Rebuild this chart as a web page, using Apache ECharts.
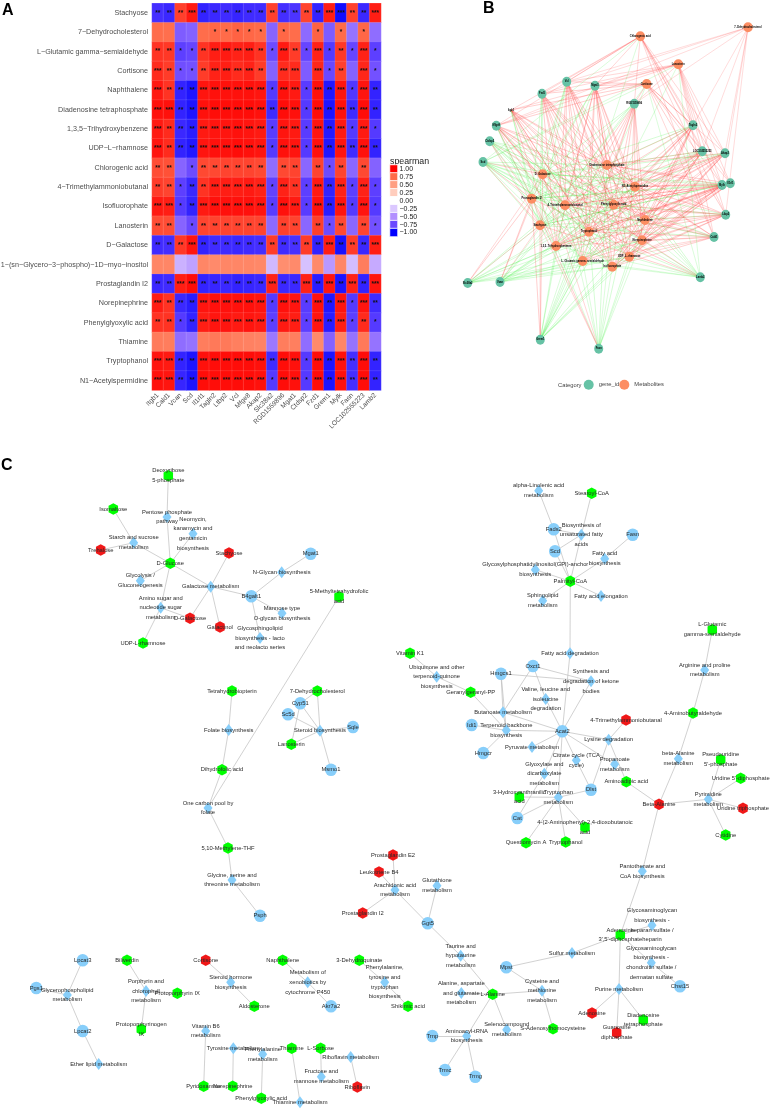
<!DOCTYPE html>
<html><head><meta charset="utf-8">
<style>html,body{margin:0;padding:0;background:#fff}#c{width:770px;height:1110px}</style>
<script src="https://cdn.jsdelivr.net/npm/echarts@6/dist/echarts.min.js"></script>
</head><body><div id="c"></div>
<script>
const genes=["Itgb1","Cald1","Vcan","Scd","Il1rl1","Tagln2","Ltbp2","Vcl","Mfge8","Akap2","Slc38a2","RGD1559896","Mgat1","Ctdsp2","Fzd1","Grem1","Mylk","Fasn","LOC102555223","Lamb2"];
const metabolites=["Stachyose","7−Dehydrocholesterol","L−Glutamic gamma−semialdehyde","Cortisone","Naphthalene","Diadenosine tetraphosphate","1,3,5−Trihydroxybenzene","UDP−L−rhamnose","Chlorogenic acid","4−Trimethylammoniobutanal","Isofluorophate","Lanosterin","D−Galactose","1−(sn−Glycero−3−phospho)−1D−myo−inositol","Prostaglandin I2","Norepinephrine","Phenylglyoxylic acid","Thiamine","Tryptophanol","N1−Acetylspermidine"];
const spearman=[
[-.84,-.86,.85,.94,-.88,-.86,-.85,-.87,-.85,-.85,.85,-.84,-.82,.84,-.88,.93,-.96,.85,-.86,.93],
[.74,.73,-.68,-.66,.74,.76,.75,.77,.76,.75,-.65,.76,.74,-.63,.77,-.68,.75,-.6,.76,-.62],
[.88,.87,-.78,-.76,.88,.93,.94,.92,.93,.88,-.74,.94,.86,-.76,.92,-.8,.87,-.76,.92,-.78],
[.9,.86,-.73,-.72,.86,.92,.93,.9,.92,.86,-.66,.9,.9,-.68,.91,-.75,.85,-.66,.91,-.72],
[.94,.88,-.88,-.93,.95,.96,.96,.96,.96,.95,-.8,.96,.94,-.79,.96,-.92,.95,-.81,.95,-.88],
[.96,.96,-.88,-.93,.96,.97,.97,.97,.97,.96,-.85,.97,.96,-.8,.97,-.93,.96,-.85,.97,-.88],
[.94,.9,-.86,-.9,.94,.95,.95,.96,.95,.94,-.79,.95,.94,-.79,.95,-.91,.94,-.8,.94,-.8],
[.95,.9,-.88,-.92,.95,.96,.96,.97,.96,.95,-.8,.96,.95,-.8,.96,-.92,.95,-.85,.96,-.88],
[.82,.81,-.65,-.74,.83,.83,.84,.84,.84,.83,-.62,.83,.84,-.64,.84,-.74,.84,-.64,.83,-.66],
[.86,.84,-.78,-.86,.88,.93,.93,.93,.94,.92,-.77,.92,.88,-.78,.94,-.88,.92,-.78,.92,-.78],
[.94,.93,-.8,-.88,.94,.96,.96,.96,.96,.95,-.79,.96,.94,-.79,.96,-.9,.95,-.8,.95,-.8],
[.82,.82,-.65,-.75,.84,.84,.84,.84,.84,.84,-.63,.85,.84,-.64,.85,-.74,.83,-.64,.84,-.72],
[-.85,-.84,.87,.95,-.88,-.85,-.85,-.86,-.85,-.84,.86,-.85,-.83,.86,-.88,.93,-.94,.86,-.86,.93],
[.62,.62,-.35,-.42,.62,.6,.62,.62,.62,.61,-.32,.58,.6,-.28,.6,-.46,.62,-.3,.66,-.38],
[-.86,-.85,.93,.97,-.88,-.87,-.86,-.88,-.87,-.86,.92,-.86,-.86,.92,-.9,.95,-.93,.92,-.88,.95],
[.93,.88,-.86,-.9,.95,.96,.96,.96,.96,.95,-.8,.96,.95,-.79,.96,-.92,.95,-.8,.95,-.85],
[.88,.88,-.8,-.88,.93,.95,.95,.94,.95,.94,-.78,.94,.93,-.78,.95,-.9,.93,-.78,.9,-.8],
[.67,.66,-.62,-.6,.66,.68,.68,.65,.64,.63,-.58,.66,.65,-.62,.6,-.66,.62,-.6,.68,-.6],
[.95,.94,-.88,-.93,.96,.97,.97,.97,.97,.96,-.85,.97,.96,-.8,.97,-.93,.96,-.84,.97,-.88],
[.96,.95,-.87,-.93,.97,.97,.97,.97,.97,.96,-.8,.97,.96,-.8,.97,-.93,.96,-.84,.97,-.88]];
const starCounts=[
[2,2,2,3,2,2,2,2,2,2,2,2,2,2,2,3,3,2,2,3],
[0,0,0,0,0,1,1,1,1,1,0,1,0,0,1,0,1,0,1,0],
[2,2,1,1,2,3,3,3,3,2,1,3,2,1,3,1,2,1,3,1],
[3,2,1,1,2,3,3,3,3,2,0,3,3,0,3,1,2,0,3,1],
[3,2,2,2,3,3,3,3,3,3,1,3,3,1,3,2,3,1,3,2],
[3,3,2,2,3,3,3,3,3,3,2,3,3,1,3,2,3,2,3,2],
[3,2,2,2,3,3,3,3,3,3,1,3,3,1,3,2,3,1,3,1],
[3,2,2,2,3,3,3,3,3,3,1,3,3,1,3,2,3,2,3,2],
[2,2,0,1,2,2,2,2,2,2,0,2,2,0,2,1,2,0,2,0],
[2,2,1,2,2,3,3,3,3,3,1,3,2,1,3,2,3,1,3,1],
[3,3,1,2,3,3,3,3,3,3,1,3,3,1,3,2,3,1,3,1],
[2,2,0,1,2,2,2,2,2,2,0,2,2,0,2,1,2,0,2,1],
[2,2,2,3,2,2,2,2,2,2,2,2,2,2,2,3,2,2,2,3],
[0,0,0,0,0,0,0,0,0,0,0,0,0,0,0,0,0,0,0,0],
[2,2,3,3,2,2,2,2,2,2,3,2,2,3,2,3,2,3,2,3],
[3,2,2,2,3,3,3,3,3,3,1,3,3,1,3,2,3,1,3,2],
[2,2,1,2,3,3,3,3,3,3,1,3,3,1,3,2,3,1,2,1],
[0,0,0,0,0,0,0,0,0,0,0,0,0,0,0,0,0,0,0,0],
[3,3,2,2,3,3,3,3,3,3,2,3,3,1,3,2,3,2,3,2],
[3,3,2,2,3,3,3,3,3,3,1,3,3,1,3,2,3,2,3,2]];
const legendTicks=["1.00","0.75","0.50","0.25","0.00","−0.25","−0.50","−0.75","−1.00"];
const legendValues=[1,.75,.5,.25,0,-.25,-.5,-.75,-1];

// Panel B network layout: name -> layout position
const bGenes={Itgb1:[511,110],Fzd1:[542,93.7],Vcl:[566.7,81.7],Mgat1:[595,85.7],RGD1559896:[634.3,103.7],Tagln2:[693,125.3],Mfge8:[496.3,125.7],Ctdsp2:[489.7,141.3],Scd:[483,162],LOC102555223:[702.3,151.3],Akap2:[725,153.3],Mylk:[722,185],Il1rl1:[730.3,183.3],Ltbp2:[725.7,214.7],Cald1:[714,237],Lamb2:[700.3,277.3],Slc38a2:[467.7,283],Vcan:[500,282],Grem1:[540.3,339.7],Fasn:[598.7,348.7]};
const bMetabolites={"Chlorogenic acid":[640.3,36.3],"7−Dehydrocholesterol":[748,27.3],"Lanosterin":[678.3,64.3],"Cortisone":[646.7,84],"Diadenosine tetraphosphate":[607,165],"D−Galactose":[542.7,174.3],"N1−Acetylspermidine":[635,186.7],"Prostaglandin I2":[531.7,198.7],"4−Trimethylammoniobutanal":[565,205.3],"Phenylglyoxylic acid":[613.7,204.7],"Naphthalene":[645,220],"Stachyose":[540,225.3],"Tryptophanol":[589,231.7],"Norepinephrine":[642,240.3],"1,3,5−Trihydroxybenzene":[556,246],"L−Glutamic gamma−semialdehyde":[582.7,261],"UDP−L−rhamnose":[629.3,256.7],"Isofluorophate":[612.3,266.7]};

// Panel C network: key, label ("|" = line break), layout x, y, kind (g=gene, p=pathway, up=green metabolite, dn=red metabolite)
const cNodes=[
["deox","Deoxyribose|5-phosphate",168.3,475.7,"up"],["isom","Isomaltose",113.3,509,"up"],["pent","Pentose phosphate|pathway",167,517,"p"],
["neo","Neomycin,|kanamycin and|gentamicin|biosynthesis",193,533.7,"p"],["starch","Starch and sucrose|metabolism",133.7,542.7,"p"],["treh","Trehalose",100.7,550,"dn"],
["stach","Stachyose",229,553,"dn"],["gluc","D-Glucose",170.3,563.3,"up"],["glyc","Glycolysis /|Gluconeogenesis",140.3,580.7,"p"],["galm","Galactose metabolism",210.7,586.7,"p"],
["mgat","Mgat1",310.7,553.7,"g"],["nglyc","N-Glycan biosynthesis",281.7,572.3,"p"],["b4","B4galt1",251.3,596.3,"g"],["mann","Mannose type|O-glycan biosynthesis",282,613.3,"p"],
["gsl","Glycosphingolipid|biosynthesis - lacto|and neolacto series",260,638,"p"],["amino","Amino sugar and|nucleotide sugar|metabolism",160.7,607.7,"p"],["dgal","D-Galactose",190,618.3,"dn"],
["galn","Galactinol",220,627,"dn"],["udpr","UDP-L-rhamnose",143,643,"up"],["mthf","5-Methyltetrahydrofolic|acid",339,596.7,"up"],
["thb","Tetrahydrobiopterin",232,691,"up"],["fol","Folate biosynthesis",228.7,730,"p"],["dhf","Dihydrofolic acid",222,769.7,"up"],
["dhc","7-Dehydrocholesterol",317.3,691,"up"],["cyp","Cyp51",300.3,703.3,"g"],["sc5","Sc5d",288,714.3,"g"],["ster","Steroid biosynthesis",320,730.7,"p"],["sqle","Sqle",353,727,"g"],["lano","Lanosterin",291.3,744.3,"up"],["msmo","Msmo1",331,769.7,"g"],
["onec","One carbon pool by|folate",208,808,"p"],["mthe","5,10-Methylene-THF",228,848,"up"],["gly","Glycine, serine and|threonine metabolism",232,880,"p"],["psph","Psph",260,915.7,"g"],
["vk","Vitamin K1",410,653.3,"up"],["ubi","Ubiquinone and other|terpenoid-quinone|biosynthesis",436.7,676.7,"p"],["ggpp","Geranylgeranyl-PP",470.7,692.3,"up"],
["alin","alpha-Linolenic acid|metabolism",538.7,490.7,"p"],["stea","Stearoyl-CoA",591.7,493.3,"up"],["fads","Fads2",553.7,529.3,"g"],["bufa","Biosynthesis of|unsaturated fatty|acids",581.3,534.7,"p"],["fasn","Fasn",632.7,534.7,"g"],["scd","Scd",555,551.3,"g"],
["fab","Fatty acid|biosynthesis",604.7,558.7,"p"],["gpi","Glycosylphosphatidylinositol(GPI)-anchor|biosynthesis",535.3,569.7,"p"],["palm","Palmityl-CoA",570.3,581.3,"up"],["sph","Sphingolipid|metabolism",542.7,600.7,"p"],["fael","Fatty acid elongation",601,596,"p"],
["fadg","Fatty acid degradation",570,653.3,"p"],["oxct","Oxct1",533,666,"g"],["hmgs","Hmgcs1",501,673.7,"g"],["ket","Synthesis and|degradation of ketone|bodies",591,681.3,"p"],["val","Valine, leucine and|isoleucine|degradation",545.7,699,"p"],["but","Butanoate metabolism",503,712.3,"p"],
["idi","Idi1",471.7,725,"g"],["terp","Terpenoid backbone|biosynthesis",506.3,730.3,"p"],["acat","Acat2",562.3,731.3,"g"],["tma","4-Trimethylammoniobutanal",626,720,"dn"],["lys","Lysine degradation",608.7,739.7,"p"],["hmgr","Hmgcr",483.3,753,"g"],["pyr","Pyruvate metabolism",532,747,"p"],
["tca","Citrate cycle (TCA|cycle)",576.3,760.3,"p"],["prop","Propanoate|metabolism",614.7,764.3,"p"],["glyo","Glyoxylate and|dicarboxylate|metabolism",544.3,773.7,"p"],["dlst","Dlst",591,789.7,"g"],["aadp","Aminoadipic acid",626.3,781.7,"up"],["haa","3-Hydroxyanthranilic|acid",519.3,797,"up"],["trpm","Tryptophan|metabolism",558.3,797.3,"p"],["cat","Cat",517.3,818,"g"],["apd","4-(2-Aminophenyl)-2,4-dioxobutanoic|acid",585,827.3,"up"],["ques","Questiomycin A",526,842.7,"up"],["trol","Tryptophanol",565.7,842,"up"],
["lglu","L-Glutamic|gamma-semialdehyde",712.3,629.7,"up"],["arg","Arginine and proline|metabolism",704.7,670,"p"],["abal","4-Aminobutyraldehyde",693,713,"up"],["balm","beta-Alanine|metabolism",678.3,758.7,"p"],["bala","Beta-Alanine",659,804.3,"dn"],["psu","Pseudouridine|5'-phosphate",720.7,759.7,"up"],["udp","Uridine 5'-diphosphate",740.7,778.3,"up"],["pyrm","Pyrimidine|metabolism",708.3,799.3,"p"],["utp","Uridine triphosphate",743,808.3,"dn"],["cyt","Cytidine",725.7,835,"up"],["pant","Pantothenate and|CoA biosynthesis",642.3,871.3,"p"],
["pge","Prostaglandin E2",393,855,"dn"],["ltb","Leukotriene B4",379,872,"dn"],["pgi","Prostaglandin I2",362.7,913,"dn"],["arach","Arachidonic acid|metabolism",395,890,"p"],["glut","Glutathione|metabolism",437,885.7,"p"],["ggt","Ggt5",427.7,923.3,"g"],["taur","Taurine and|hypotaurine|metabolism",460.7,955.7,"p"],["alam","Alanine, aspartate|and glutamate|metabolism",461.3,993,"p"],["lala","L-Alanine",492.7,994.3,"up"],["mpst","Mpst",506.3,967.3,"g"],["sulf","Sulfur metabolism",572,953,"p"],["cys","Cysteine and|methionine|metabolism",542,990.7,"p"],["sel","Selenocompound|metabolism",506.7,1029.7,"p"],["sah","S-Adenosylhomocysteine",553,1028.7,"up"],["trna","Aminoacyl-tRNA|biosynthesis",466.7,1036,"p"],["trnp","Trnp",432.3,1036,"g"],["trmc","Trmc",445,1070,"g"],["trmg","Trmg",475.3,1076.7,"g"],
["adp","Adenosine|3',5'-diphosphate",620.3,935,"up"],["gagh","Glycosaminoglycan|biosynthesis -|heparan sulfate /|heparin",652,925.3,"p"],["gagc","Glycosaminoglycan|biosynthesis -|chondroitin sulfate /|dermatan sulfate",651.3,962.7,"p"],["chst","Chst15",680,986.3,"g"],["pur","Purine metabolism",619,989,"p"],["ade","Adenosine",592,1013,"dn"],["gdp","Guanosine|diphosphate",616.7,1032.7,"dn"],["diad","Diadenosine|tetraphosphate",643.3,1020,"up"],
["lp3","Lpcat3",82.7,960.3,"g"],["pgs","Pgs1",36.3,988,"g"],["gpl","Glycerophospholipid|metabolism",67.3,995,"p"],["lp2","Lpcat2",82.7,1031,"g"],["eth","Ether lipid metabolism",98.7,1064,"p"],["bili","Biliverdin",127,960.3,"up"],["porm","Porphyrin and|chlorophyll|metabolism",146,991,"p"],["ppix","Protoporphyrin IX",177.3,993.3,"up"],["ppg","Protoporphyrinogen|IX",141.3,1029.3,"up"],["cort","Cortisone",205.7,960.3,"dn"],["shb","Steroid hormone|biosynthesis",230.7,982.3,"p"],["aldo","Aldosterone",254.3,1006.3,"up"],["naph","Naphthalene",282.7,960.3,"up"],["xeno","Metabolism of|xenobiotics by|cytochrome P450",307.7,982.3,"p"],["akr","Akr7a2",331,1006.3,"g"],["dhq","3-Dehydroquinate",359.3,960.3,"up"],["phet","Phenylalanine,|tyrosine and|tryptophan|biosynthesis",384.7,982.3,"p"],["shik","Shikimic acid",408,1006.3,"up"],
["vb6","Vitamin B6|metabolism",205.7,1031,"p"],["pdxm","Pyridoxamine",203.7,1086.3,"up"],["tyr","Tyrosine metabolism",233.3,1048.3,"p"],["nore","Norepinephrine",232.7,1086.3,"up"],["phem","Phenylalanine|metabolism",262.7,1054.3,"p"],["pgly","Phenylglyoxylic acid",261.3,1098.3,"up"],["thia","Thiamine",291.7,1048.3,"up"],["tham","Thiamine metabolism",300,1102.3,"p"],["sorb","L-Sorbose",320.7,1048.3,"up"],["fruc","Fructose and|mannose metabolism",321.3,1076.7,"p"],["ribm","Riboflavin metabolism",350.7,1057,"p"],["ribo","Riboflavin",357.3,1087,"dn"]];
const cEdges=`deox-pent pent-gluc isom-starch treh-starch starch-gluc neo-gluc gluc-glyc gluc-galm gluc-amino amino-udpr amino-dgal galm-stach galm-dgal galm-galn galm-b4 b4-nglyc nglyc-mgat b4-mann b4-gsl thb-fol fol-dhf mthf-onec dhf-onec onec-mthe mthe-gly gly-psph dhc-cyp dhc-ster cyp-ster cyp-lano sc5-ster sqle-ster lano-ster msmo-ster alin-fads stea-bufa fads-palm fads-bufa scd-bufa bufa-palm scd-palm fasn-fab fab-palm gpi-palm sph-palm fael-palm palm-fadg fadg-acat oxct-ket hmgs-ket acat-ket oxct-but hmgs-but oxct-val val-acat but-acat but-terp idi-terp terp-acat hmgr-terp hmgs-terp ubi-ggpp ggpp-terp vk-ubi acat-pyr acat-lys acat-prop acat-glyo acat-trpm tca-acat tca-dlst lys-tma lys-dlst lys-aadp dlst-trpm trpm-haa trpm-cat trpm-apd trpm-ques trpm-trol cat-glyo aadp-bala bala-balm balm-abal abal-arg arg-lglu bala-pyrm pyrm-psu pyrm-udp pyrm-utp pyrm-cyt bala-pant pant-adp adp-gagh adp-gagc adp-pur adp-sulf pur-ade pur-gdp pur-diad gagc-chst sulf-mpst mpst-cys cys-lala cys-sah lala-alam lala-taur taur-ggt ggt-glut ggt-arach arach-pge arach-ltb arach-pgi lala-sel lala-trna trna-trnp trna-trmc trna-trmg lp3-gpl pgs-gpl gpl-lp2 lp2-eth bili-porm porm-ppix porm-ppg cort-shb shb-aldo naph-xeno xeno-akr dhq-phet phet-shik vb6-pdxm tyr-nore phem-pgly thia-tham sorb-fruc ribm-ribo`.split(/\s+/);

const FONT="Liberation Sans";
const HEX="path://M5 0L10 2.6L10 9.4L5 12L0 9.4L0 2.6Z";
const heatData=[];
spearman.forEach((r,i)=>r.forEach((v,j)=>heatData.push([j,i,v])));
const legendData=legendValues.map((v,i)=>[0,i,v]);

// B
const bNodes=[],bLinks=[];
genes.forEach(g=>bNodes.push({id:g,name:g,value:bGenes[g],category:0,symbol:'circle',symbolSize:g==="Itgb1"?[1,1]:[9,10]}));
Object.keys(bMetabolites).forEach(m=>bNodes.push({id:m,name:m,value:bMetabolites[m],category:1,symbol:'circle',symbolSize:[9.5,10]}));
metabolites.forEach((m,i)=>{ if(!bMetabolites[m])return;
  genes.forEach((g,j)=>{const s=starCounts[i][j]; if(!s)return;
    bLinks.push({source:g,target:m,lineStyle:{color:spearman[i][j]>0?'#ff2a2a':'#22ee22',opacity:s===3?.32:s===2?.27:.24,width:.7}});
  });
});

// C
const kindStyle={g:{c:'#87CEFA',sym:'circle',sz:[12,12.6]},p:{c:'#87CEFA',sym:'diamond',sz:[9,12]},up:{c:'#00FF00',sym:HEX,sz:[9.5,11.5]},dn:{c:'#F01818',sym:HEX,sz:[9.5,11.5]}};
const idx={};cNodes.forEach((n,i)=>idx[n[0]]=i);
const cData=cNodes.map(n=>({name:n[1].replace(/\|/g,'\n'),value:[n[2],n[3]],symbol:kindStyle[n[4]].sym,symbolSize:kindStyle[n[4]].sz,itemStyle:{color:kindStyle[n[4]].c}}));
const cLinks=cEdges.map(e=>{const [a,b]=e.split('-');return {source:idx[a],target:idx[b]};});

const colors=['#0000FF','#6A48FF','#B28FFF','#DBC8FF','#FFFFFF','#FFCDBD','#FF9E81','#FF6B49','#FF0000'];
const hidden={show:false};
const option={
 animation:false,backgroundColor:'#fff',textStyle:{fontFamily:FONT},
 grid:[
  {left:152,top:3.3,width:229,height:387,outerBoundsMode:'none'},
  {left:390,top:165,width:7.5,height:71.5,outerBoundsMode:'none'},
  {left:430,top:0,width:340,height:375,outerBoundsMode:'none'},
  {left:0,top:420,width:770,height:690,outerBoundsMode:'none'}],
 xAxis:[
  {gridIndex:0,type:'category',data:genes,axisLine:hidden,axisTick:{length:2,lineStyle:{color:'#555',width:.6},alignWithLabel:true},splitLine:hidden,axisLabel:{rotate:45,fontSize:6.7,color:'#4D4D4D',margin:4,interval:0,fontFamily:FONT,hideOverlap:false}},
  {gridIndex:1,type:'category',data:['s'],show:false},
  {gridIndex:2,type:'value',min:430,max:770,show:false},
  {gridIndex:3,type:'value',min:0,max:770,show:false}],
 yAxis:[
  {gridIndex:0,type:'category',inverse:true,data:metabolites,axisLine:hidden,axisTick:{length:2,lineStyle:{color:'#555',width:.6},alignWithLabel:true},splitLine:hidden,axisLabel:{fontSize:7.2,color:'#4D4D4D',margin:4,interval:0,fontFamily:FONT}},
  {gridIndex:1,type:'category',inverse:true,data:legendTicks,position:'right',axisLine:hidden,axisTick:hidden,splitLine:hidden,axisLabel:{fontSize:7,color:'#222',margin:2,interval:0,fontFamily:FONT}},
  {gridIndex:2,type:'value',min:0,max:375,inverse:true,show:false},
  {gridIndex:3,type:'value',min:420,max:1110,inverse:true,show:false}],
 visualMap:[{show:false,type:'continuous',min:-1,max:1,seriesIndex:[0,1],dimension:2,inRange:{color:colors}}],
 legend:{show:true,data:['gene_id','Metabolites'],left:583.7,top:379.7,padding:0,icon:'circle',itemWidth:10,itemHeight:10.5,itemGap:0,textStyle:{fontSize:5.8,color:'#444',fontFamily:FONT}},
 graphic:[
  {type:'text',left:2,top:3,style:{text:'A',fontSize:16,fontWeight:'bold',fill:'#000',fontFamily:FONT}},
  {type:'text',left:483,top:1,style:{text:'B',fontSize:16,fontWeight:'bold',fill:'#000',fontFamily:FONT}},
  {type:'text',left:1,top:458,style:{text:'C',fontSize:16,fontWeight:'bold',fill:'#000',fontFamily:FONT}},
  {type:'text',left:390,top:157,style:{text:'spearman',fontSize:8.8,fill:'#222',fontFamily:FONT}},
  {type:'text',left:558,top:382,style:{text:'Category',fontSize:5.8,fill:'#444',fontFamily:FONT}}
 ],
 series:[
  {type:'heatmap',xAxisIndex:0,yAxisIndex:0,data:heatData,silent:true,itemStyle:{borderColor:'rgba(255,255,255,.22)',borderWidth:.5},
   label:{show:true,fontSize:6.5,fontWeight:'bold',color:'#111',fontFamily:FONT,formatter:p=>'*'.repeat(starCounts[p.value[1]][p.value[0]])},emphasis:{disabled:true}},
  {type:'heatmap',xAxisIndex:1,yAxisIndex:1,data:legendData,silent:true,itemStyle:{borderColor:'#fff',borderWidth:.8},emphasis:{disabled:true}},
  {type:'graph',coordinateSystem:'cartesian2d',xAxisIndex:2,yAxisIndex:2,layout:'none',silent:true,
   categories:[{name:'gene_id',itemStyle:{color:'#66C2A5'}},{name:'Metabolites',itemStyle:{color:'#FC8D62'}}],
   data:bNodes,links:bLinks,z:3,
   label:{show:true,position:'inside',fontSize:2.6,fontWeight:'bold',color:'#000',fontFamily:FONT,formatter:p=>p.name},emphasis:{disabled:true}},
  {type:'graph',coordinateSystem:'cartesian2d',xAxisIndex:3,yAxisIndex:3,layout:'none',silent:true,
   data:cData,links:cLinks,z:3,lineStyle:{color:'#BDBDBD',width:.7,opacity:1},
   label:{show:true,position:'inside',fontSize:5.8,color:'#2a2a2a',lineHeight:9.7,fontFamily:FONT,formatter:p=>p.name},emphasis:{disabled:true}}
 ]
};
const chart=echarts.init(document.getElementById('c'),null,{renderer:'canvas'});
chart.setOption(option);
</script></body></html>
